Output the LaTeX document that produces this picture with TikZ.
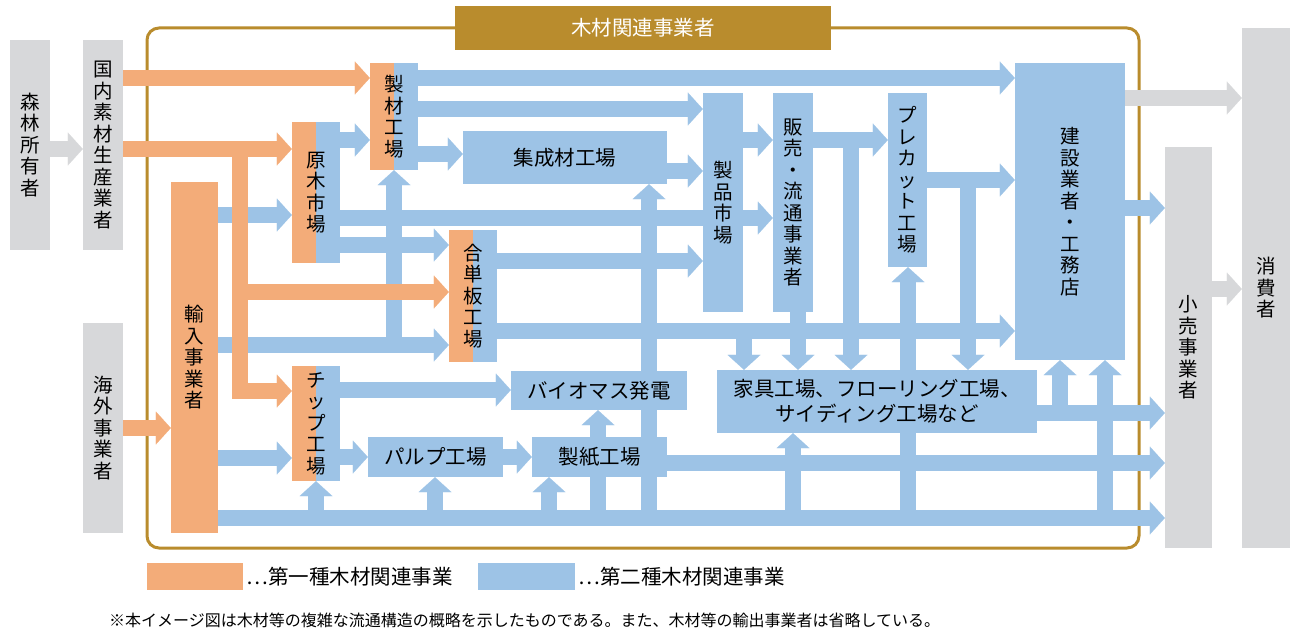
\documentclass[tikz,border=0pt]{standalone}
\usepackage{fontspec}
\setmainfont{Noto Sans CJK JP}
\usetikzlibrary{arrows.meta,backgrounds}

\definecolor{ora}{HTML}{F3AC79}
\definecolor{blu}{HTML}{9DC3E6}
\definecolor{gry}{HTML}{D7D8DA}
\definecolor{gld}{HTML}{B98C2D}

\tikzset{
  tate/.style={inner sep=0pt, align=center, font=\fontsize{19.5}{21.5}\selectfont},
  yoko/.style={inner sep=0pt, align=center, font=\fontsize{20.5}{25}\selectfont},
  grbox/.style={tate, fill=gry},
  orbox/.style={tate, fill=ora},
  blbox/.style={tate, fill=blu},
  twobox/.style={tate, fill=ora, path picture={\fill[blu] (path picture bounding box.north) rectangle (path picture bounding box.south east);}},
  pipe/.style={line width=16pt, draw=blu},
  flow/.style={pipe, -{Triangle[length=15pt,width=33pt,line width=0.01pt]}},
}

\begin{document}
\begin{tikzpicture}[x=1pt,y=-1pt]
\useasboundingbox (0,0) rectangle (1293,634);

% outside
\node[grbox, minimum width=40pt, minimum height=210pt] (shinrin) at (30,145) {森\\林\\所\\有\\者};
\node[grbox, minimum width=40pt, minimum height=210pt] (kokunai) at (103,145) {国\\内\\素\\材\\生\\産\\業\\者};
\node[grbox, minimum width=40pt, minimum height=210pt] (kaigai) at (103,428) {海\\外\\事\\業\\者};
\node[grbox, minimum width=47pt, minimum height=401pt] (kouri) at (1188.5,347.5) {小\\売\\事\\業\\者};
\node[grbox, minimum width=48pt, minimum height=520pt] (shouhi) at (1266,288) {消\\費\\者};

% first kind
\node[orbox, minimum width=47pt, minimum height=351pt] (yunyu) at (194.5,357.5) {輸\\入\\事\\業\\者};
\node[twobox, minimum width=48pt, minimum height=107pt] (seizai) at (394,116.5) {製\\材\\工\\場};
\node[twobox, minimum width=48pt, minimum height=141pt] (genboku) at (316,192.5) {原\\木\\市\\場};
\node[twobox, minimum width=48pt, minimum height=132pt] (goban) at (473,296) {合\\単\\板\\工\\場};
\node[twobox, minimum width=48pt, minimum height=115pt] (chip) at (316,423.5) {チ\\ッ\\プ\\工\\場};

% second kind
\node[blbox, yoko, minimum width=204pt, minimum height=53pt] (shusei) at (565,157.5) {集成材工場};
\node[blbox, minimum width=40pt, minimum height=219pt] (seihin) at (723,202.5) {製\\品\\市\\場};
\node[blbox, minimum width=40pt, minimum height=219pt] (hanbai) at (793,202.5) {販\\売\\・\\流\\通\\事\\業\\者};
\node[blbox, minimum width=39pt, minimum height=174pt] (precut) at (907.5,180) {プ\\レ\\カ\\ッ\\ト\\工\\場};
\node[blbox, minimum width=110pt, minimum height=297pt] (kensetsu) at (1070,211.5) {建\\設\\業\\者\\・\\工\\務\\店};
\node[blbox, yoko, minimum width=320pt, minimum height=63pt] (furniture) at (877,401.5) {家具工場、フローリング工場、\\サイディング工場など};
\node[blbox, yoko, minimum width=176pt, minimum height=39pt] (biomass) at (599,390.5) {バイオマス発電};
\node[blbox, yoko, minimum width=135pt, minimum height=40pt] (pulp) at (435.5,457) {パルプ工場};
\node[blbox, yoko, minimum width=135pt, minimum height=40pt] (seishi) at (599.5,457) {製紙工場};

\node[yoko, fill=gld, text=white, minimum width=376pt, minimum height=44pt] (title) at (643,28) {木材関連事業者};

\begin{scope}[on background layer]
  \draw[gld, line width=3pt, rounded corners=12pt] (147,28) rectangle (1139,548);

  \draw[flow] (yunyu.east |- 0,215) -- (genboku.west |- 0,215);
  \draw[flow] (yunyu.east |- 0,345) -- (goban.west |- 0,345);
  \draw[flow] (yunyu.east |- 0,458) -- (chip.west |- 0,458);
  \draw[flow] (yunyu.east |- 0,518) -- (kouri.west |- 0,518);
  \draw[flow] (394,345) -- (seizai.south);

  \draw[flow] (genboku.east |- 0,140) -- (seizai.west |- 0,140);
  \draw[flow] (genboku.east |- 0,218) -- (hanbai.west |- 0,218);
  \draw[flow] (genboku.east |- 0,245) -- (goban.west |- 0,245);

  \draw[flow] (seizai.east |- 0,78) -- (kensetsu.west |- 0,78);
  \draw[flow] (seizai.east |- 0,109) -- (seihin.west |- 0,109);
  \draw[flow] (seizai.east |- 0,154) -- (shusei.west |- 0,154);
  \draw[flow] (shusei.east |- 0,171) -- (seihin.west |- 0,171);
  \draw[flow] (seihin.east |- 0,140) -- (hanbai.west |- 0,140);
  \draw[flow] (hanbai.east |- 0,140) -- (precut.west |- 0,140);
  \draw[flow] (851,140) -- (851,0 |- furniture.north);
  \draw[flow] (hanbai.south -| 798,0) -- (798,0 |- furniture.north);
  \draw[flow] (precut.east |- 0,180) -- (kensetsu.west |- 0,180);
  \draw[flow] (968,180) -- (968,0 |- furniture.north);

  \draw[flow] (goban.east |- 0,261) -- (seihin.west |- 0,261);
  \draw[flow] (goban.east |- 0,331) -- (kensetsu.west |- 0,331);
  \draw[flow] (744,331) -- (744,0 |- furniture.north);

  \draw[flow] (chip.east |- 0,390) -- (biomass.west |- 0,390);
  \draw[flow] (chip.east |- 0,457) -- (pulp.west);
  \draw[flow] (pulp.east) -- (seishi.west);
  \draw[flow] (seishi.north -| 598,0) -- (598,0 |- biomass.south);
  \draw[pipe] (seishi.south -| 598,0) -- (598,518);
  \draw[flow] (seishi.east |- 0,463) -- (kouri.west |- 0,463);
  \draw[flow] (649,518) -- (649,0 |- shusei.south);

  \draw[flow] (316,518) -- (chip.south);
  \draw[flow] (435,518) -- (435,0 |- pulp.south);
  \draw[flow] (549,518) -- (549,0 |- seishi.south);
  \draw[flow] (793,518) -- (793,0 |- furniture.south);
  \draw[flow] (908,518) -- (908,0 |- precut.south);
  \draw[flow] (1105,518) -- (1105,0 |- kensetsu.south);
  \draw[flow] (furniture.east |- 0,413) -- (kouri.west |- 0,413);
  \draw[flow] (1060,413) -- (1060,0 |- kensetsu.south);
  \draw[flow] (kensetsu.east |- 0,208) -- (kouri.west |- 0,208);

  \draw[flow, draw=gry] (shinrin.east |- 0,149) -- (kokunai.west |- 0,149);
  \draw[flow, draw=gry] (kensetsu.east |- 0,98) -- (shouhi.west |- 0,98);
  \draw[flow, draw=gry] (kouri.east |- 0,289) -- (shouhi.west |- 0,289);

  \draw[flow, draw=ora] (kokunai.east |- 0,78) -- (seizai.west |- 0,78);
  \draw[flow, draw=ora] (kokunai.east |- 0,149) -- (genboku.west |- 0,149);
  \draw[flow, draw=ora] (240,149) |- (chip.west |- 0,391);
  \draw[flow, draw=ora] (240,292) -- (goban.west |- 0,292);
  \draw[flow, draw=ora] (kaigai.east |- 0,428) -- (yunyu.west |- 0,428);
\end{scope}

% legend
\node[fill=ora, minimum width=96pt, minimum height=27pt] (leg1) at (195,576.5) {};
\node[yoko, anchor=west] (leg1text) at ([xshift=3pt]leg1.east) {⋯第一種木材関連事業};
\node[fill=blu, minimum width=97pt, minimum height=27pt] (leg2) at (526.5,576.5) {};
\node[yoko, anchor=west] (leg2text) at ([xshift=3pt]leg2.east) {⋯第二種木材関連事業};
\node[anchor=west, inner sep=0pt, font=\fontsize{16}{18}\selectfont] (note) at (109,620) {※本イメージ図は木材等の複雑な流通構造の概略を示したものである。また、木材等の輸出事業者は省略している。};
\end{tikzpicture}
\end{document}
